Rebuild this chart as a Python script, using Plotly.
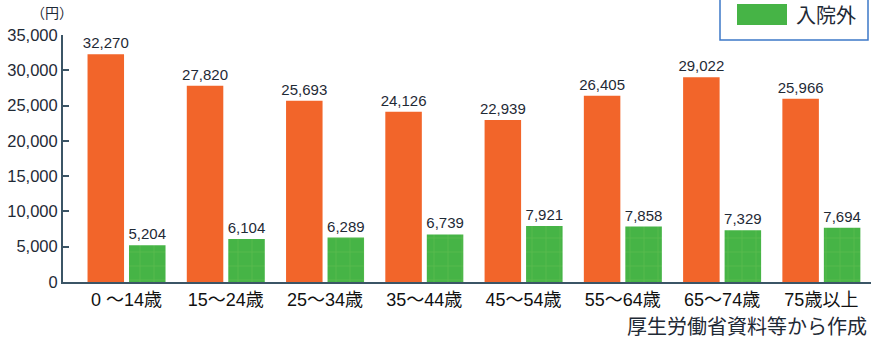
import plotly.graph_objects as go

# Monthly medical cost per person by age group (yen)
categories = ["0 ～14歳", "15～24歳", "25～34歳", "35～44歳", "45～54歳", "55～64歳", "65～74歳", "75歳以上"]
inpatient = [32270, 27820, 25693, 24126, 22939, 26405, 29022, 25966]
outpatient = [5204, 6104, 6289, 6739, 7921, 7858, 7329, 7694]
y_ticks = [0, 5000, 10000, 15000, 20000, 25000, 30000, 35000]
y_tick_labels = ["0", "5,000", "10,000", "15,000", "20,000", "25,000", "30,000", "35,000"]

W, H = 874, 340
ML, MR, MT, MB = 63, 3, 35, 58
PW, PH = W - ML - MR, H - MT - MB

ORANGE = "#f2652a"
GREEN = "#46b446"
INK = "#1f2a36"
AXIS = "#3b5566"
LAT = "Liberation Sans, Arial, sans-serif"
JP = "Liberation Sans, Noto Sans CJK JP, sans-serif"


def px_x(p):
    return (p - ML) / PW


def px_y(p):
    return (H - MB - p) / PH


fig = go.Figure()
fig.add_trace(go.Bar(
    x=categories, y=inpatient, name="入院",
    marker=dict(color=ORANGE, line=dict(width=0)),
    text=[f"{v:,}" for v in inpatient], textposition="outside", constraintext="none",
    textfont=dict(family=LAT, size=15, color=INK), cliponaxis=False,
    showlegend=False,
))
fig.add_trace(go.Bar(
    x=categories, y=outpatient, name="入院外",
    marker=dict(color=GREEN, line=dict(width=0),
                pattern=dict(shape="+", fgcolor="#8fd060", fgopacity=0.25, size=14, solidity=0.12)),
    text=[f"{v:,}" for v in outpatient], textposition="outside", constraintext="none",
    textfont=dict(family=LAT, size=15, color=INK), cliponaxis=False,
    showlegend=False,
))

# legend box (top of frame runs past the page edge)
fig.add_shape(type="rect", xref="paper", yref="paper",
              x0=px_x(720), x1=px_x(868), y0=px_y(40), y1=px_y(-30),
              line=dict(color="#3d78c8", width=1.5), fillcolor="white", layer="above")
fig.add_shape(type="rect", xref="paper", yref="paper",
              x0=px_x(737), x1=px_x(787), y0=px_y(25), y1=px_y(4),
              line=dict(width=0), fillcolor=GREEN, layer="above")
fig.add_annotation(xref="paper", yref="paper", x=px_x(794), y=px_y(15),
                   text="入院外", showarrow=False, xanchor="left", yanchor="middle",
                   font=dict(family="Noto Sans CJK JP", size=20, color=INK))

# unit label
fig.add_annotation(xref="paper", yref="paper", x=px_x(52), y=px_y(12),
                   text="（円）", showarrow=False, xanchor="center", yanchor="middle",
                   font=dict(family="Noto Sans CJK JP", size=14, color=INK))

# source note
fig.add_annotation(xref="paper", yref="paper", x=px_x(869), y=px_y(325),
                   text="厚生労働省資料等から作成", showarrow=False, xanchor="right", yanchor="middle",
                   font=dict(family="Noto Sans CJK JP", size=20, color=INK))

fig.update_layout(
    width=W, height=H,
    margin=dict(l=ML, r=MR, t=MT, b=MB, autoexpand=False),
    paper_bgcolor="white", plot_bgcolor="white",
    barmode="group", bargap=0.164, bargroupgap=0.12,
    showlegend=False,
    xaxis=dict(
        range=[-0.64, 7.5], showgrid=False, zeroline=False,
        showline=True, linecolor=AXIS, linewidth=2, ticks="",
        tickfont=dict(family=JP, size=18, color="#111111"),
    ),
    yaxis=dict(
        range=[0, 35000], tickvals=y_ticks, ticktext=y_tick_labels,
        showgrid=False, zeroline=False,
        showline=True, linecolor=AXIS, linewidth=2,
        ticks="inside", ticklen=6, tickcolor=AXIS, tickwidth=1.5,
        tickfont=dict(family=LAT, size=16.5, color=INK),
    ),
)

fig.write_html("out.html")
